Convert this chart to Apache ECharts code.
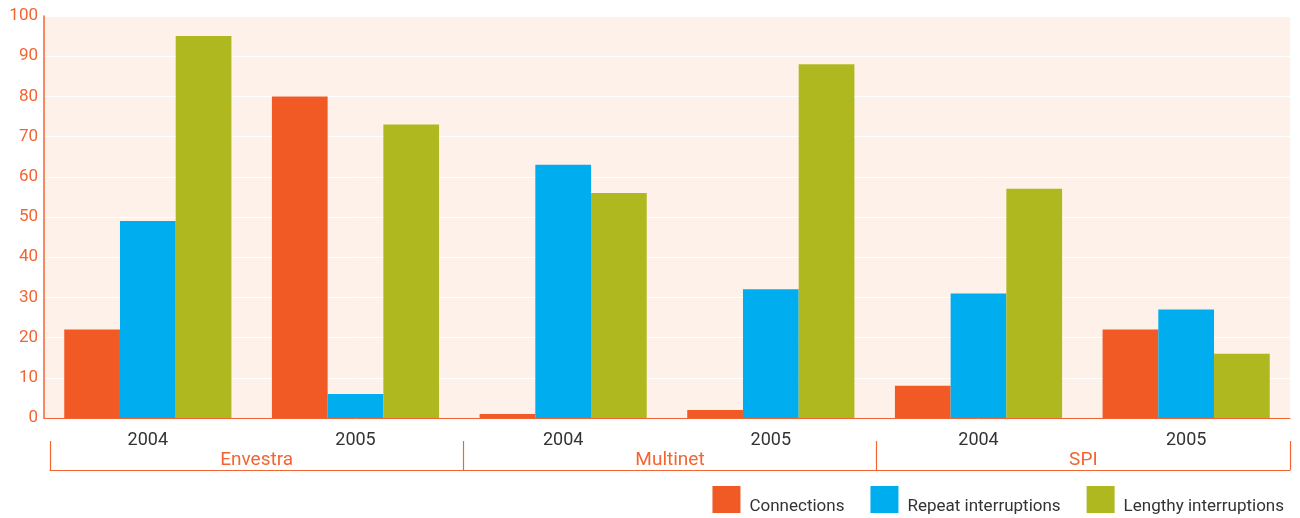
<!DOCTYPE html>
<html>
<head>
<meta charset="utf-8">
<script src="https://cdn.jsdelivr.net/npm/echarts@6/dist/echarts.min.js"></script>
<style>html,body{margin:0;padding:0;background:#fff;}#c{width:1300px;height:518px;}</style>
</head>
<body>
<div id="c"></div>
<script>
const years = ['2004','2005','2004','2005','2004','2005'];
const companies = ['Envestra','Multinet','SPI'];
const connections = [22, 80, 1, 2, 8, 22];
const repeatInterruptions = [49, 6, 63, 32, 31, 27];
const lengthyInterruptions = [95, 73, 56, 88, 57, 16];
const seriesNames = ['Connections','Repeat interruptions','Lengthy interruptions'];
const colors = ['#f15a24','#00aeef','#b0b81f'];
const ORANGE = '#f26532';
const FONT = 'Roboto';

const chart = echarts.init(document.getElementById('c'), null, {renderer:'canvas'});
chart.setOption({
  animation: false,
  color: colors,
  grid: [
    {left:44, right:10, top:16, bottom:100, show:true, backgroundColor:'#fdf1e9', borderWidth:0},
    {left:50, right:10, top:441, bottom:48, show:false}
  ],
  legend: {
    right: 16, top: 486, padding: 0,
    itemWidth: 28, itemHeight: 27, itemGap: 26,
    icon: 'rect',
    formatter: '{t|{name}}',
    textStyle: {
      fontFamily: FONT, fontSize: 17, color:'#333',
      rich: {t: {fontFamily: FONT, fontSize: 17, color:'#333', padding:[15,0,0,4]}}
    },
    data: seriesNames
  },
  xAxis: [
    {
      type:'category', data: years, position:'bottom', gridIndex:0,
      axisLine:{show:true, lineStyle:{color:ORANGE, width:1}},
      axisTick:{show:false},
      axisLabel:{color:'#333', fontFamily:FONT, fontSize:18, margin:13},
      splitLine:{show:false}
    },
    {
      type:'category', data: companies, position:'bottom', gridIndex:1,
      axisLine:{show:true, lineStyle:{color:ORANGE, width:1.2}},
      axisTick:{show:true, inside:true, length:29, lineStyle:{color:ORANGE, width:1.2}},
      axisLabel:{inside:true, color:ORANGE, fontFamily:FONT, fontSize:19, margin:0},
      splitLine:{show:false}
    }
  ],
  yAxis: [
    {
      type:'value', min:0, max:100, interval:10, gridIndex:0,
      axisLine:{show:true, lineStyle:{color:ORANGE, width:1.5}},
      axisTick:{show:false},
      axisLabel:{color:ORANGE, fontFamily:FONT, fontSize:17, margin:6},
      splitLine:{show:true, lineStyle:{color:'#ffffff', width:1}}
    },
    {
      type:'value', min:0, max:100, gridIndex:1, show:false
    }
  ],
  series: [
    {name:seriesNames[0], type:'bar', data:connections, barGap:'0%', barCategoryGap:'19.5%', xAxisIndex:0, yAxisIndex:0},
    {name:seriesNames[1], type:'bar', data:repeatInterruptions, barGap:'0%', barCategoryGap:'19.5%', xAxisIndex:0, yAxisIndex:0},
    {name:seriesNames[2], type:'bar', data:lengthyInterruptions, barGap:'0%', barCategoryGap:'19.5%', xAxisIndex:0, yAxisIndex:0}
  ]
});
</script>
</body>
</html>
